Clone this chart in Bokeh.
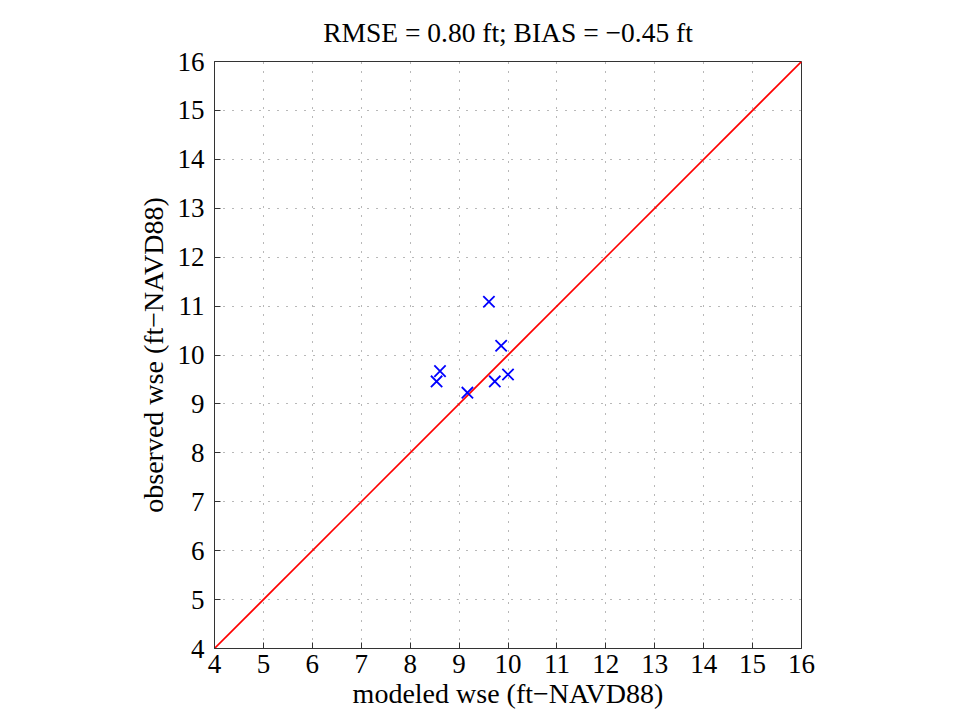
from bokeh.plotting import figure
from bokeh.models import Range1d, FixedTicker
from bokeh.embed import file_html
from bokeh.resources import INLINE

# data
modeled = [9.61, 9.86, 8.61, 8.54, 9.17, 9.73, 10.00]
observed = [11.09, 10.19, 9.67, 9.46, 9.23, 9.46, 9.60]
line_x = [4, 16]
line_y = [4, 16]
ticks = list(range(4, 17))
title_text = "RMSE = 0.80 ft; BIAS = \u22120.45 ft"
xlabel = "modeled wse (ft\u2212NAVD88)"
ylabel = "observed wse (ft\u2212NAVD88)"

FONT = "Liberation Serif"

p = figure(width=941, height=715, output_backend="svg", toolbar_location=None,
           x_range=Range1d(4, 16), y_range=Range1d(4, 16),
           min_border_left=214, min_border_top=61, min_border_bottom=67,
           min_border_right=140, title=title_text)

p.title.text_font = FONT
p.title.text_font_size = "27.5px"
p.title.text_font_style = "normal"
p.title.align = "center"
p.title.text_color = "#000000"
p.title.standoff = 27

p.line(line_x, line_y, line_color="#ff0000", line_width=1.6)
p.scatter(modeled, observed, marker="x", size=16, line_color="#0000ff", line_width=1.8)

for ax in (p.xaxis[0], p.yaxis[0]):
    ax.ticker = FixedTicker(ticks=ticks)
    ax.major_tick_in = 6
    ax.major_tick_out = 0
    ax.minor_tick_line_color = None
    ax.major_label_text_font = FONT
    ax.major_label_text_font_size = "27px"
    ax.axis_label_text_font = FONT
    ax.axis_label_text_font_size = "28px"
    ax.axis_label_text_font_style = "normal"
    ax.axis_line_color = "#333333"
    ax.major_tick_line_color = "#333333"
    ax.major_label_text_color = "#000000"
    ax.axis_label_text_color = "#000000"

p.xaxis.axis_label = xlabel
p.yaxis.axis_label = ylabel
p.xaxis.major_label_standoff = 6
p.xaxis.axis_label_standoff = 2
p.yaxis.major_label_standoff = 10
p.yaxis.axis_label_standoff = 6
p.yaxis.major_label_orientation = "horizontal"

p.grid.ticker = FixedTicker(ticks=ticks)
p.grid.grid_line_color = "#707070"
p.grid.grid_line_dash = "1 8"
p.grid.grid_line_width = 1

p.outline_line_color = "#333333"
p.outline_line_width = 1
p.background_fill_color = "#ffffff"
p.border_fill_color = "#ffffff"

open("out.html", "w").write(file_html(p, INLINE))
